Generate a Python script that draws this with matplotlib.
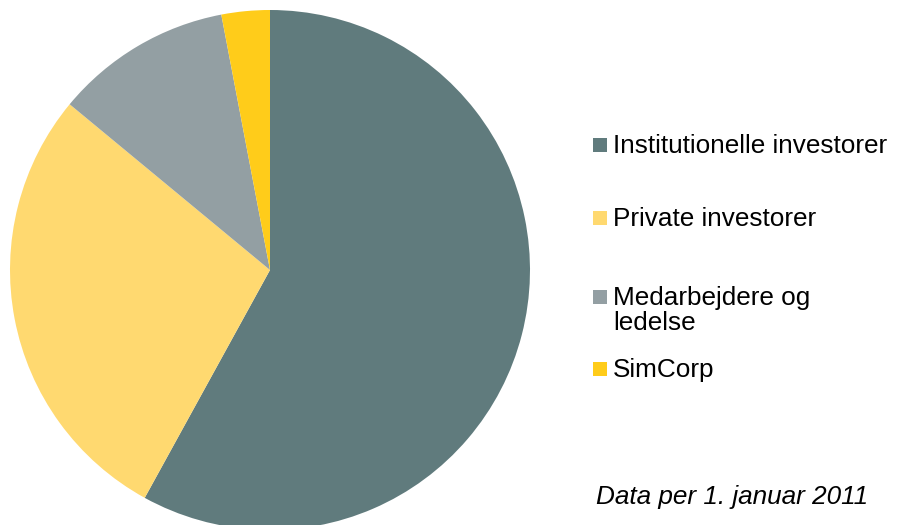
import matplotlib
matplotlib.use("Agg")
from matplotlib import pyplot as plt
from matplotlib.patches import Rectangle

# Ejerfordeling (andel i procent)
labels = ["Institutionelle investorer", "Private investorer",
          "Medarbejdere og\nledelse", "SimCorp"]
shares = [58, 28, 11, 3]
colors = ["#607B7D", "#FFD970", "#939FA3", "#FFCC1A"]

plt.rcParams["font.family"] = ["Liberation Sans", "DejaVu Sans"]

W, H = 897, 525
fig = plt.figure(figsize=(W / 100, H / 100), dpi=100)

# pie centre ~ (270, 270) px from top-left, radius ~ 260 px
cx, cy, r = 270, 270, 260
ax = fig.add_axes([(cx - r) / W, (H - cy - r) / H, 2 * r / W, 2 * r / H])
ax.pie(shares, colors=colors, startangle=90, counterclock=False,
       radius=1, wedgeprops=dict(linewidth=0))
ax.set_xlim(-1, 1)
ax.set_ylim(-1, 1)
ax.set_aspect("equal")
ax.axis("off")

# legend drawn by hand, because the rows are unevenly spaced
row_y = [145, 218, 297, 369]
sq = 14
fs = 18.8
for lab, col, y in zip(labels, colors, row_y):
    fig.patches.append(Rectangle((593 / W, (H - y - sq / 2) / H), sq / W, sq / H,
                                 transform=fig.transFigure, facecolor=col,
                                 edgecolor="none"))
    fig.text(613 / W, (H - y + 11) / H, lab, fontsize=fs, va="top",
             ha="left", color="black", linespacing=1.07)

fig.text(596 / W, (H - 497) / H, "Data per 1. januar 2011", fontsize=fs,
         style="italic", va="center", ha="left")

fig.savefig("out.png", dpi=100)
